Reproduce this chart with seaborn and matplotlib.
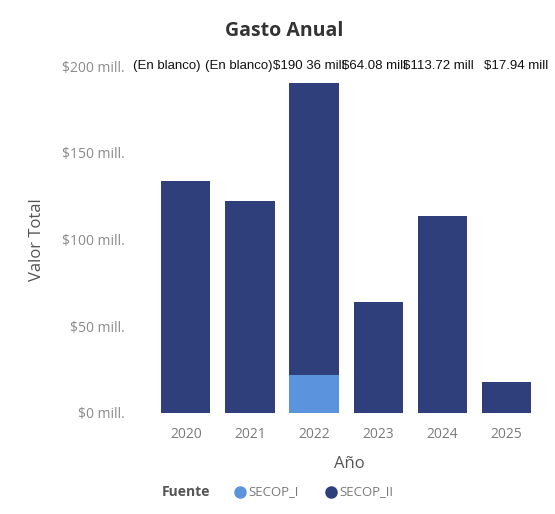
import numpy as np
import pandas as pd
import matplotlib
matplotlib.use("Agg")
import matplotlib.pyplot as plt
import seaborn as sns

# data (millions)
years = ["2020", "2021", "2022", "2023", "2024", "2025"]
secop_i = [0.0, 0.0, 22.0, 0.0, 0.0, 0.0]
secop_ii = [134.0, 122.0, 168.36, 64.08, 113.72, 17.94]
total_labels = ["(En blanco)", "(En blanco)", "$190 36 mill", "$64.08 mill", "$113.72 mill", "$17.94 mill"]
y_ticks = [0, 50, 100, 150, 200]
y_tick_labels = ["$0 mill.", "$50 mill.", "$100 mill.", "$150 mill.", "$200 mill."]

color_i = "#5b93dd"
color_ii = "#2e3f7c"

df = pd.DataFrame({"Año": years, "SECOP_I": secop_i, "SECOP_II": secop_ii})
df["Total"] = df["SECOP_I"] + df["SECOP_II"]

sns.set_style("white")
plt.rcParams["font.family"] = ["Open Sans", "DejaVu Sans"]

fig = plt.figure(figsize=(5.55, 5.14), dpi=100)
ax = fig.add_axes([0.285, 0.1965, 0.688, 0.675])

# stacked: total (SECOP_II on top) then SECOP_I at the bottom
sns.barplot(data=df, x="Año", y="Total", color=color_ii, width=0.77,
            saturation=1, linewidth=0, ax=ax)
sns.barplot(data=df, x="Año", y="SECOP_I", color=color_i, width=0.77,
            saturation=1, linewidth=0, ax=ax)

ax.set_ylim(0, 200)
ax.set_xlim(-0.43, 5.52)
ax.set_yticks(y_ticks)
ax.set_yticklabels(y_tick_labels, color="#8a8a8a", fontsize=10)
ax.tick_params(axis="x", colors="#7a7a7a", labelsize=10, length=0, pad=10)
ax.tick_params(axis="y", length=0, pad=24)
for s in ax.spines.values():
    s.set_visible(False)

ax.set_xlabel("Año", fontsize=12, color="#555555", labelpad=10)
ax.set_ylabel("Valor Total", fontsize=12, color="#555555", labelpad=12)

# total labels along the top (they overlap, as in the original)
shift = [-0.3, -0.18, -0.08, -0.06, -0.06, 0.15]
for i, lab in enumerate(total_labels):
    ax.text(i + shift[i], 200, lab, ha="center", va="center",
            fontsize=9.5, color="#111111", family=["Liberation Sans", "DejaVu Sans"])

fig.text(0.512, 0.94, "Gasto Anual", ha="center", va="center",
         fontsize=14, fontweight="bold", color="#333333")

# legend row
fig.text(0.292, 0.043, "Fuente", ha="left", va="center", fontsize=10,
         fontweight="bold", color="#555555")
fig.lines.append(plt.Line2D([0.433], [0.043], marker="o", markersize=8,
                            color=color_i, transform=fig.transFigure))
fig.text(0.447, 0.043, "SECOP_I", ha="left", va="center", fontsize=9.5, color="#7a7a7a")
fig.lines.append(plt.Line2D([0.597], [0.043], marker="o", markersize=8,
                            color=color_ii, transform=fig.transFigure))
fig.text(0.611, 0.043, "SECOP_II", ha="left", va="center", fontsize=9.5, color="#7a7a7a")

fig.savefig("out.png", dpi=100)
